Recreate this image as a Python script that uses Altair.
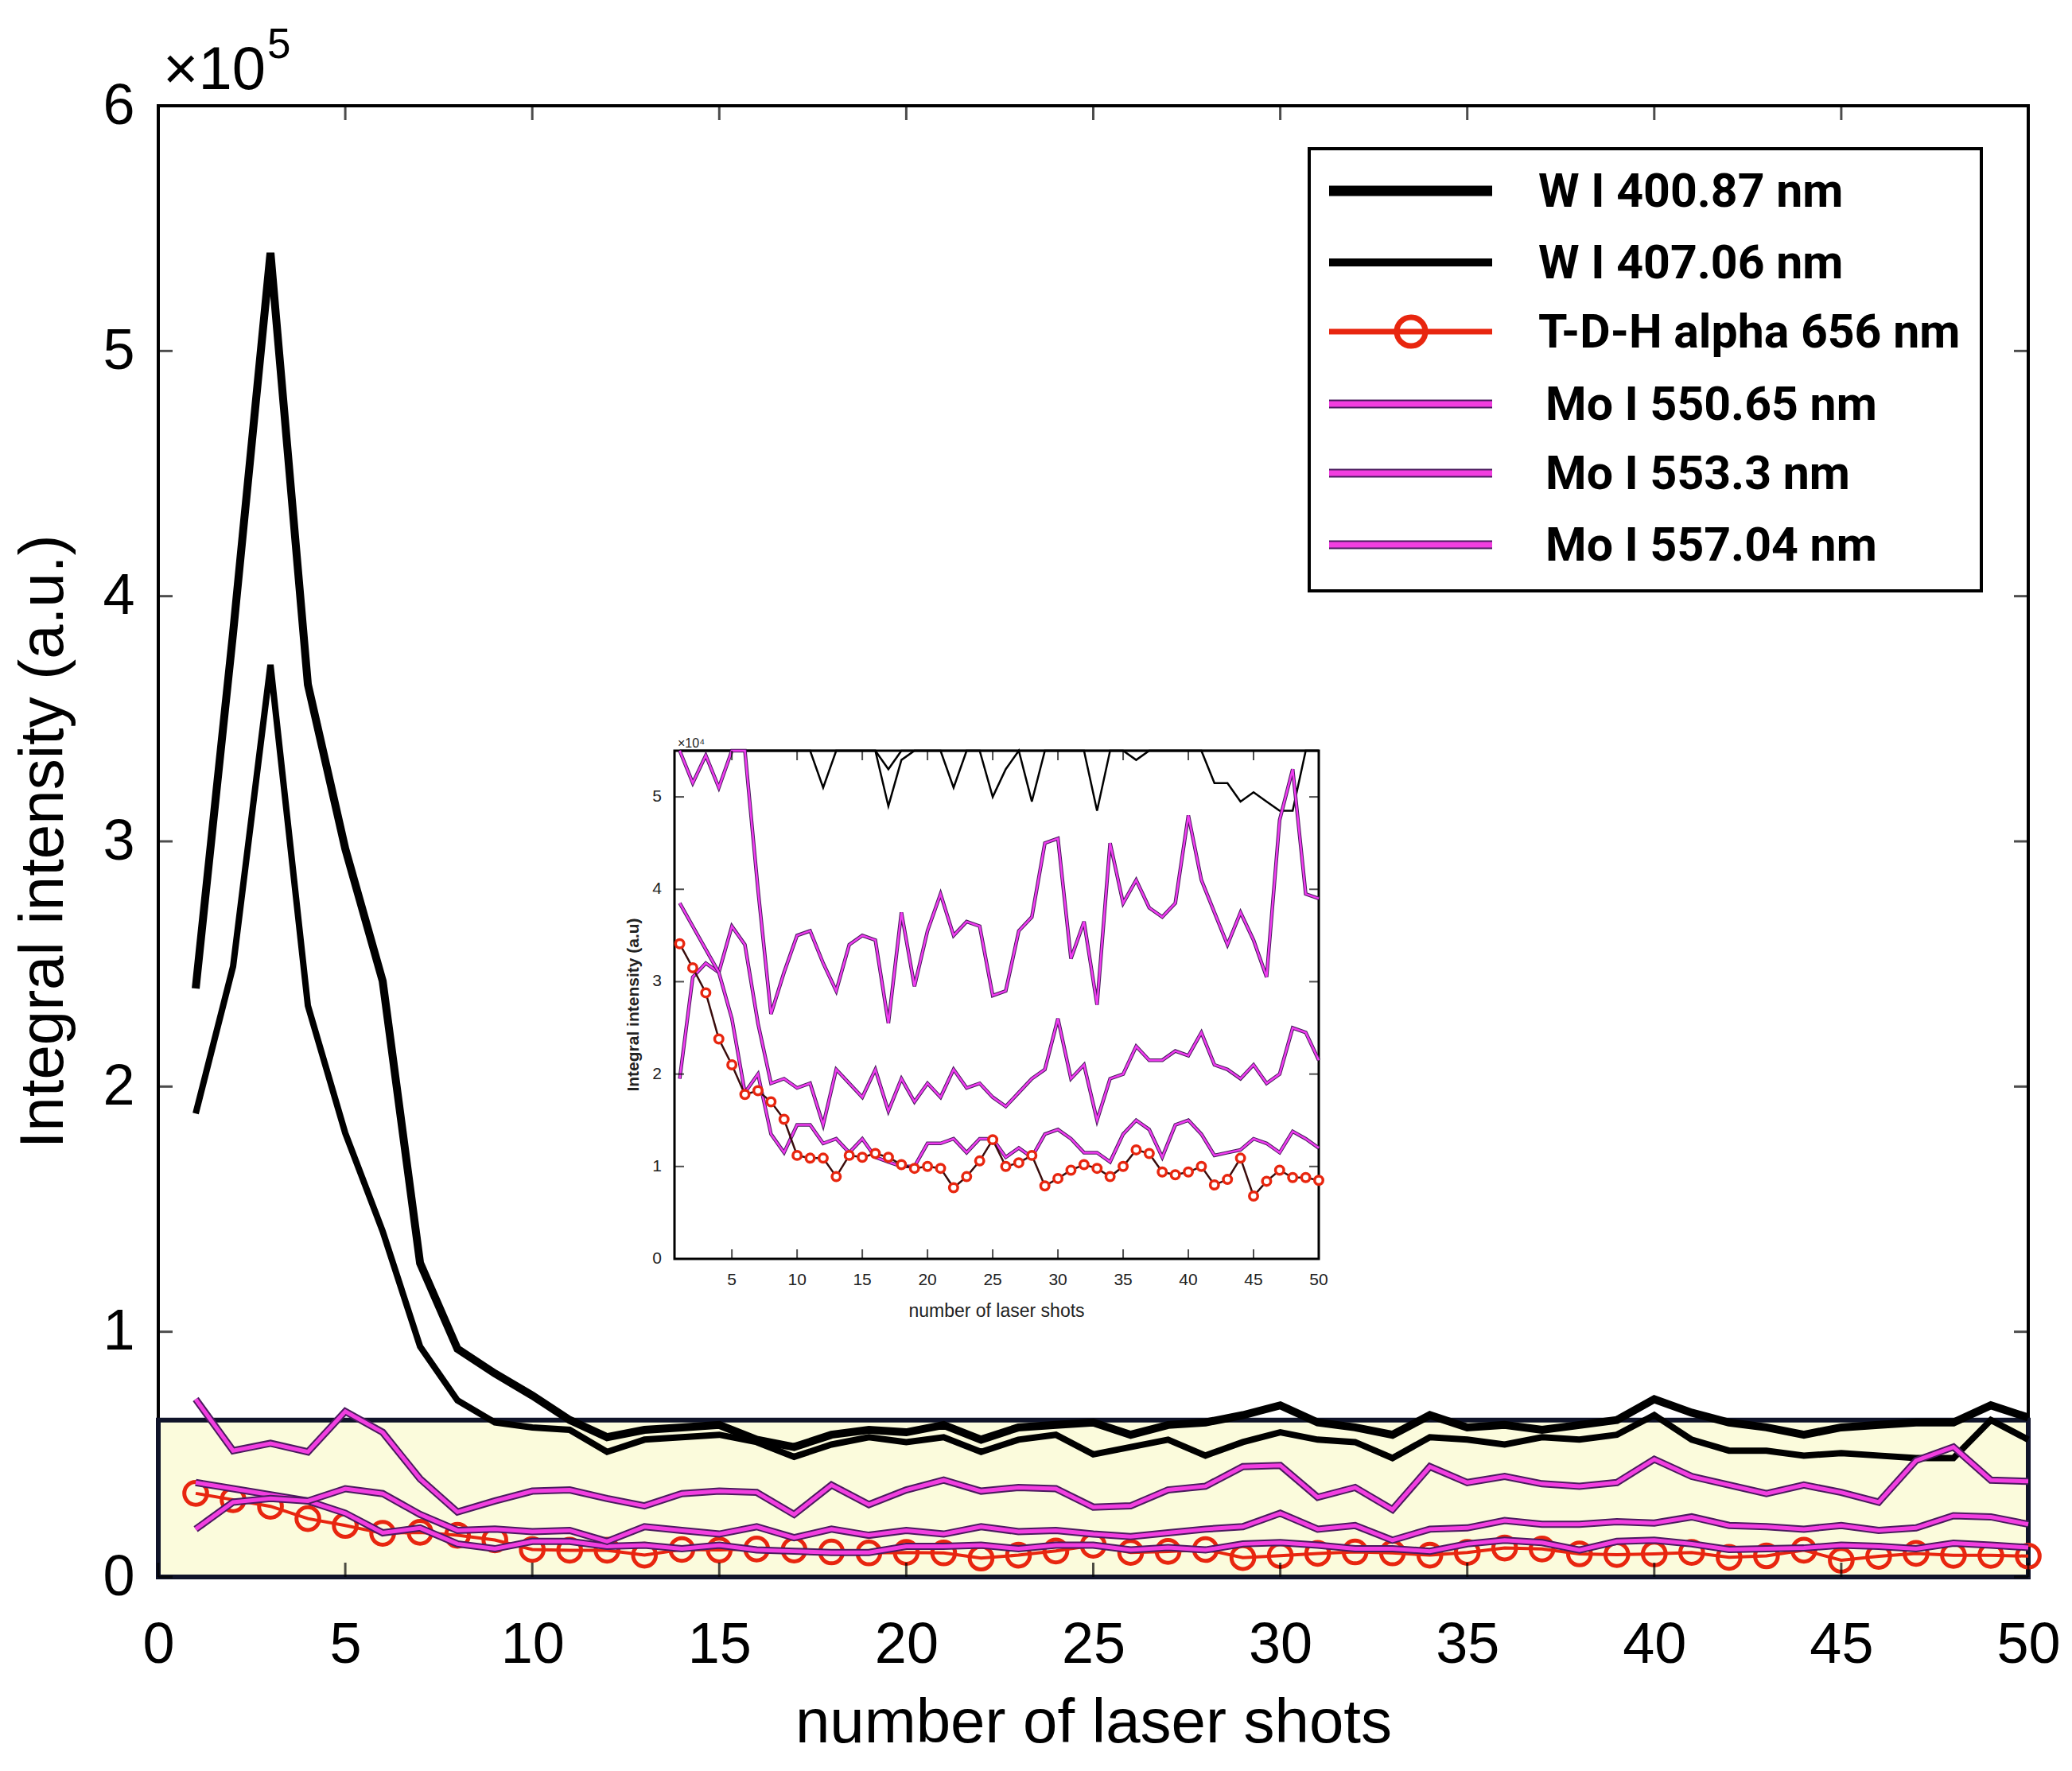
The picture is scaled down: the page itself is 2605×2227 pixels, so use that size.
import altair as alt
import pandas as pd

# laser shot number (x) and line intensities in units of 1e4 counts
shots = list(range(1, 51))

w_400 = [24.0, 38.5, 54.0, 36.4, 29.7, 24.3, 12.8, 9.3, 8.3, 7.4,
         6.4, 5.7, 6.0, 6.1, 6.2, 5.6, 5.3, 5.8, 6.0, 5.9,
         6.2, 5.6, 6.1, 6.2, 6.3, 5.8, 6.2, 6.3, 6.6, 7.0,
         6.3, 6.1, 5.8, 6.6, 6.1, 6.2, 6.0, 6.2, 6.4, 7.25,
         6.7, 6.3, 6.1, 5.8, 6.1, 6.2, 6.3, 6.3, 7.0, 6.5]
w_407 = [18.9, 24.9, 37.2, 23.3, 18.1, 14.1, 9.4, 7.2, 6.3, 6.1,
         6.0, 5.1, 5.6, 5.7, 5.8, 5.5, 4.9, 5.4, 5.7, 5.5,
         5.7, 5.1, 5.6, 5.8, 5.0, 5.3, 5.6, 4.95, 5.5, 5.9,
         5.6, 5.5, 4.85, 5.7, 5.6, 5.4, 5.7, 5.6, 5.8, 6.6,
         5.6, 5.15, 5.15, 4.95, 5.05, 4.95, 4.85, 4.85, 6.4, 5.6]
tdh_656 = [3.41, 3.15, 2.88, 2.38, 2.10, 1.78, 1.82, 1.70, 1.51, 1.12,
           1.09, 1.09, 0.89, 1.12, 1.10, 1.14, 1.10, 1.02, 0.98, 1.00,
           0.98, 0.77, 0.89, 1.06, 1.29, 1.00, 1.04, 1.12, 0.79, 0.87,
           0.96, 1.02, 0.98, 0.89, 1.00, 1.18, 1.14, 0.94, 0.91, 0.94,
           1.00, 0.80, 0.86, 1.09, 0.68, 0.84, 0.96, 0.88, 0.88, 0.85]
mo_550 = [7.25, 5.15, 5.45, 5.1, 6.75, 5.9, 4.0, 2.65, 3.1, 3.5,
          3.55, 3.2, 2.9, 3.4, 3.5, 3.45, 2.55, 3.75, 2.95, 3.55,
          3.95, 3.5, 3.65, 3.6, 2.85, 2.9, 3.55, 3.7, 4.5, 4.55,
          3.25, 3.65, 2.75, 4.5, 3.85, 4.1, 3.8, 3.7, 3.85, 4.8,
          4.1, 3.75, 3.4, 3.75, 3.45, 3.05, 4.75, 5.3, 3.95, 3.9]
mo_553 = [1.95, 3.05, 3.2, 3.1, 3.6, 3.4, 2.55, 1.9, 1.95, 1.85,
          1.9, 1.45, 2.05, 1.9, 1.75, 2.05, 1.6, 1.95, 1.7, 1.9,
          1.75, 2.05, 1.85, 1.9, 1.75, 1.65, 1.8, 1.95, 2.05, 2.6,
          1.95, 2.1, 1.5, 1.95, 2.0, 2.3, 2.15, 2.15, 2.25, 2.2,
          2.45, 2.1, 2.05, 1.95, 2.1, 1.9, 2.0, 2.5, 2.45, 2.15]
mo_557 = [3.85, 3.6, 3.35, 3.1, 2.6, 1.8, 2.0, 1.35, 1.15, 1.45,
          1.45, 1.25, 1.3, 1.15, 1.3, 1.1, 1.05, 1.0, 1.0, 1.25,
          1.25, 1.3, 1.15, 1.3, 1.3, 1.1, 1.2, 1.1, 1.35, 1.4,
          1.3, 1.15, 1.15, 1.05, 1.35, 1.5, 1.4, 1.1, 1.45, 1.5,
          1.35, 1.12, 1.15, 1.18, 1.3, 1.25, 1.15, 1.38, 1.3, 1.2]

legend_labels = ["W I 400.87 nm", "W I 407.06 nm", "T-D-H alpha 656 nm",
                 "Mo I 550.65 nm", "Mo I 553.3 nm", "Mo I 557.04 nm"]

main_x_ticks = list(range(0, 51, 5))
main_y_ticks = list(range(0, 61, 10))  # 1e4 units, labelled as 1e5
inset_x_ticks = list(range(5, 51, 5))
inset_y_ticks = [0, 1, 2, 3, 4, 5]
box_top = 6.4
inset_x_domain = [0.6, 50]
inset_y_domain = [0, 5.5]

# ---- layout (pixels inside the plot area) ----
W, H = 2351, 1850
INSET_X = [649, 1459]
INSET_Y = [1450, 811]

MAGENTA = "#f23ee0"
MAGENTA_EDGE = "#4a1a5e"
RED = "#e8260f"
FONT = "Liberation Sans"

one = pd.DataFrame({"k": [0]})


def series(values):
    return pd.DataFrame({"shot": shots, "value": values})


# ---- main chart ----
mx_scale = alt.Scale(domain=[0, 50], nice=False, zero=False)
my_scale = alt.Scale(domain=[0, 60], nice=False)
mx_axis = alt.Axis(values=main_x_ticks, title="number of laser shots", ticks=False, tickSize=0,
                   domain=False, grid=False, labelFontSize=72, titleFontSize=78, labelFont=FONT,
                   titleFont=FONT, titleFontWeight="normal", labelColor="black", titleColor="black",
                   labelPadding=50, titlePadding=24, labelFlush=False, labelOverlap=False)
my_axis = alt.Axis(values=main_y_ticks, labelExpr="datum.value / 10", title="Integral intensity (a.u.)",
                   ticks=False, tickSize=0, domain=False, grid=False, labelFontSize=72, titleFontSize=78,
                   labelFont=FONT, titleFont=FONT, titleFontWeight="normal", labelColor="black",
                   titleColor="black", labelPadding=30, titlePadding=34, labelFlush=False,
                   labelOverlap=False)


def mx(field=None, datum=None):
    if datum is not None:
        return alt.X(datum=datum, scale=mx_scale, axis=mx_axis)
    return alt.X(field, type="quantitative", scale=mx_scale, axis=mx_axis)


def my(field=None, datum=None):
    if datum is not None:
        return alt.Y(datum=datum, scale=my_scale, axis=my_axis)
    return alt.Y(field, type="quantitative", scale=my_scale, axis=my_axis)


main_layers = []

main_layers.append(
    alt.Chart(one).mark_rect(fill="#fbfbdc", stroke="#10142a", strokeWidth=6).encode(
        x=mx(datum=0), x2=alt.X2(datum=50), y=my(datum=0), y2=alt.Y2(datum=box_top)
    )
)
main_layers.append(
    alt.Chart(series(w_407)).mark_line(color="black", strokeWidth=8).encode(x=mx("shot"), y=my("value"))
)
main_layers.append(
    alt.Chart(series(w_400)).mark_line(color="black", strokeWidth=10).encode(x=mx("shot"), y=my("value"))
)
main_layers.append(
    alt.Chart(series(tdh_656)).mark_line(color=RED, strokeWidth=4).encode(x=mx("shot"), y=my("value"))
)
main_layers.append(
    alt.Chart(series(tdh_656)).mark_point(shape="circle", filled=False, color=RED, size=820,
                                          strokeWidth=5, opacity=1).encode(x=mx("shot"), y=my("value"))
)
for vals in (mo_557, mo_553, mo_550):
    main_layers.append(
        alt.Chart(series(vals)).mark_line(color=MAGENTA_EDGE, strokeWidth=9).encode(x=mx("shot"), y=my("value"))
    )
    main_layers.append(
        alt.Chart(series(vals)).mark_line(color=MAGENTA, strokeWidth=5).encode(x=mx("shot"), y=my("value"))
    )

# inward ticks on all four sides
xt = pd.DataFrame({"v": main_x_ticks})
yt = pd.DataFrame({"v": main_y_ticks})
main_layers += [
    alt.Chart(xt).mark_tick(orient="vertical", size=18, thickness=3, color="black", yOffset=-9).encode(
        x=mx("v"), y=my(datum=0)),
    alt.Chart(xt).mark_tick(orient="vertical", size=18, thickness=3, color="black", yOffset=9).encode(
        x=mx("v"), y=my(datum=60)),
    alt.Chart(yt).mark_tick(orient="horizontal", size=18, thickness=3, color="black", xOffset=9).encode(
        y=my("v"), x=mx(datum=0)),
    alt.Chart(yt).mark_tick(orient="horizontal", size=18, thickness=3, color="black", xOffset=-9).encode(
        y=my("v"), x=mx(datum=50)),
]

# x10^5 exponent label
main_layers += [
    alt.Chart(one).mark_text(text="\u00d710", fontSize=76, font=FONT, align="left", baseline="alphabetic",
                             color="black").encode(x=alt.value(6), y=alt.value(-21)),
    alt.Chart(one).mark_text(text="5", fontSize=53, font=FONT, align="left", baseline="alphabetic",
                             color="black").encode(x=alt.value(137), y=alt.value(-60)),
]

# legend box
leg_y = [107, 197, 284, 375, 462, 552]
main_layers.append(
    alt.Chart(one).mark_rect(fill="white", stroke="black", strokeWidth=4).encode(
        x=alt.value(1447), x2=alt.value(2292), y=alt.value(54), y2=alt.value(610))
)
leg_styles = [("black", 13), ("black", 10), (RED, 7), (MAGENTA, 7), (MAGENTA, 7), (MAGENTA, 7)]
for i, (label, (col, sw)) in enumerate(zip(legend_labels, leg_styles)):
    if col == MAGENTA:
        main_layers.append(alt.Chart(one).mark_rule(color=MAGENTA_EDGE, strokeWidth=sw + 4).encode(
            x=alt.value(1472), x2=alt.value(1677), y=alt.value(leg_y[i])))
    main_layers.append(alt.Chart(one).mark_rule(color=col, strokeWidth=sw).encode(
        x=alt.value(1472), x2=alt.value(1677), y=alt.value(leg_y[i])))
    if label.startswith("T-D-H"):
        main_layers.append(alt.Chart(one).mark_point(shape="circle", filled=False, color=RED, size=1300,
                                                     strokeWidth=7, opacity=1).encode(
            x=alt.value(1575), y=alt.value(leg_y[i])))
    lx = 1744 if label.startswith("Mo") else 1735
    main_layers.append(alt.Chart(one).mark_text(text=label, fontSize=59, font="Roboto", fontWeight="bold",
                                                align="left", baseline="middle", color="black").encode(
        x=alt.value(lx), y=alt.value(leg_y[i] + 2)))

main = alt.layer(*main_layers)

# ---- inset chart ----
ix_scale = alt.Scale(domain=inset_x_domain, range=INSET_X, nice=False, zero=False)
iy_scale = alt.Scale(domain=inset_y_domain, range=INSET_Y, nice=False, clamp=True)


def ix(field=None, datum=None):
    if datum is not None:
        return alt.X(datum=datum, scale=ix_scale, axis=None)
    return alt.X(field, type="quantitative", scale=ix_scale, axis=None)


def iy(field=None, datum=None):
    if datum is not None:
        return alt.Y(datum=datum, scale=iy_scale, axis=None)
    return alt.Y(field, type="quantitative", scale=iy_scale, axis=None)


inset_layers = [
    alt.Chart(one).mark_rect(fill="white", stroke="black", strokeWidth=3).encode(
        x=ix(datum=inset_x_domain[0]), x2=alt.X2(datum=inset_x_domain[1]),
        y=iy(datum=inset_y_domain[0]), y2=alt.Y2(datum=inset_y_domain[1])),
]
for vals in (w_400, w_407):
    inset_layers.append(
        alt.Chart(series(vals)).mark_line(color="black", strokeWidth=2.5).encode(x=ix("shot"), y=iy("value")))
for vals in (mo_550, mo_553, mo_557):
    inset_layers.append(
        alt.Chart(series(vals)).mark_line(color=MAGENTA_EDGE, strokeWidth=4.5).encode(x=ix("shot"), y=iy("value")))
    inset_layers.append(
        alt.Chart(series(vals)).mark_line(color="#f03cf0", strokeWidth=2.5).encode(x=ix("shot"), y=iy("value")))
inset_layers += [
    alt.Chart(series(tdh_656)).mark_line(color="#3a0c0c", strokeWidth=2.5).encode(x=ix("shot"), y=iy("value")),
    alt.Chart(series(tdh_656)).mark_point(shape="circle", filled=True, fill="white", stroke=RED, size=110,
                                          strokeWidth=3.5, opacity=1).encode(x=ix("shot"), y=iy("value")),
]

ixt = pd.DataFrame({"v": inset_x_ticks})
iyt = pd.DataFrame({"v": inset_y_ticks})
inset_layers += [
    alt.Chart(ixt).mark_tick(orient="vertical", size=12, thickness=2, color="black", yOffset=-6).encode(
        x=ix("v"), y=iy(datum=inset_y_domain[0])),
    alt.Chart(ixt).mark_tick(orient="vertical", size=12, thickness=2, color="black", yOffset=6).encode(
        x=ix("v"), y=iy(datum=inset_y_domain[1])),
    alt.Chart(iyt).mark_tick(orient="horizontal", size=12, thickness=2, color="black", xOffset=6).encode(
        y=iy("v"), x=ix(datum=inset_x_domain[0])),
    alt.Chart(iyt).mark_tick(orient="horizontal", size=12, thickness=2, color="black", xOffset=-6).encode(
        y=iy("v"), x=ix(datum=inset_x_domain[1])),
    alt.Chart(ixt).mark_text(dy=27, fontSize=21, font=FONT, color="#222222").encode(
        x=ix("v"), y=iy(datum=inset_y_domain[0]), text="v:Q"),
    alt.Chart(iyt).mark_text(dx=-22, fontSize=21, font=FONT, color="#222222").encode(
        y=iy("v"), x=ix(datum=inset_x_domain[0]), text="v:Q"),
    alt.Chart(one).mark_text(text="number of laser shots", dy=66, fontSize=23, font=FONT, color="#222222").encode(
        x=ix(datum=25.3), y=iy(datum=inset_y_domain[0])),
    # rotated text: dy moves it horizontally (negative = left)
    alt.Chart(one).mark_text(text="Integral intensity (a.u)", dy=-51, angle=270, fontSize=21, font=FONT,
                             fontWeight="bold", color="#222222").encode(
        x=ix(datum=inset_x_domain[0]), y=iy(datum=2.75)),
    alt.Chart(one).mark_text(text="\u00d710\u2074", dx=4, dy=-9, fontSize=16, font=FONT, align="left",
                             color="#222222").encode(
        x=ix(datum=inset_x_domain[0]), y=iy(datum=inset_y_domain[1])),
]
inset = alt.layer(*inset_layers)

chart = (
    alt.layer(main, inset)
    .resolve_scale(x="independent", y="independent")
    .properties(
        width=W,
        height=H,
        autosize=alt.AutoSizeParams(type="none"),
        padding={"left": 191, "top": 125, "right": 40, "bottom": 230},
        background="white",
    )
    .configure_view(stroke="black", strokeWidth=4)
)

chart.save("out.html", embed_options={"renderer": "svg", "actions": False})
